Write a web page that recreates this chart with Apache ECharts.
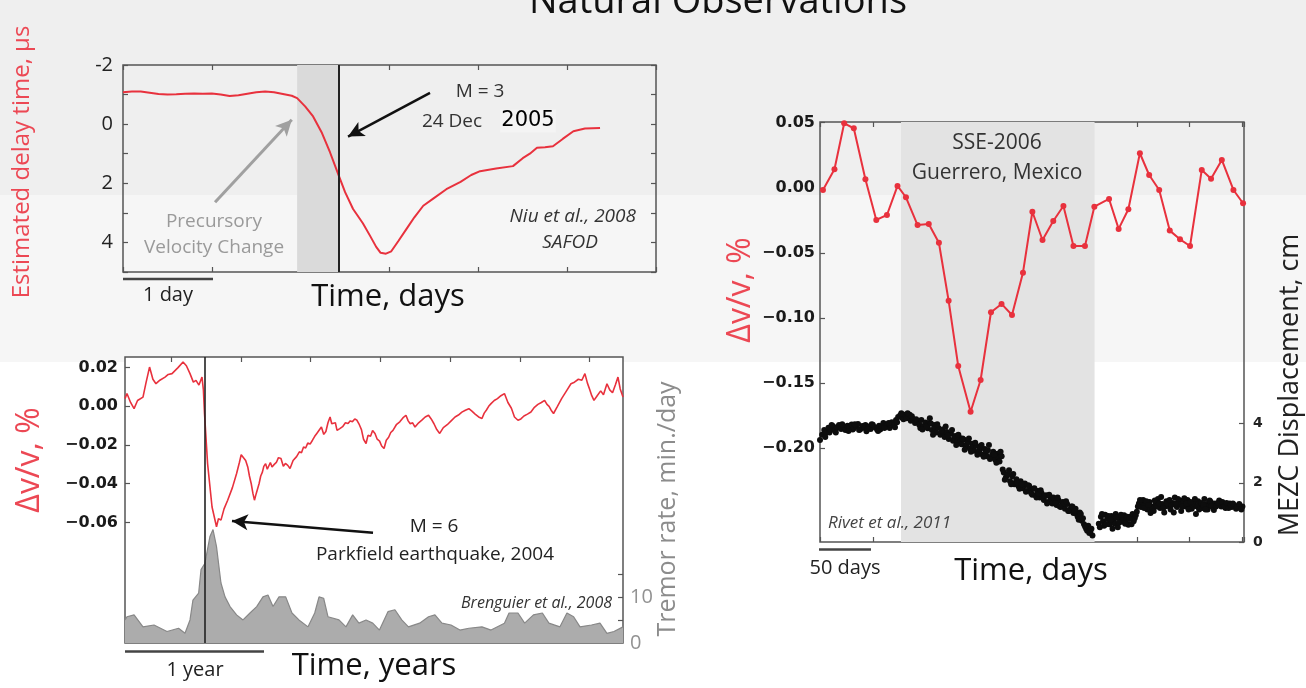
<!DOCTYPE html>
<html>
<head>
<meta charset="utf-8">
<script src="https://cdn.jsdelivr.net/npm/echarts@6/dist/echarts.min.js"></script>
<style>
  html, body { margin: 0; padding: 0; }
  body {
    background: linear-gradient(to bottom,
      #efefef 0, #efefef 195px,
      #f6f6f6 195px, #f6f6f6 362px,
      #ffffff 362px);
  }
  #chart { width: 1306px; height: 688px; }
</style>
</head>
<body>
<div id="chart"></div>
<script>
// ---------- SAFOD delay time (Niu et al., 2008) ----------
// [time in days, estimated delay time in microseconds]
const delayPairs = [
  [0, -1.08], [0.1, -1.1], [0.2, -1.1], [0.3, -1.06], [0.4, -1.02], [0.5, -1.0],
  [0.6, -1.01], [0.7, -1.03], [0.8, -1.04], [0.9, -1.03], [1.0, -1.04], [1.1, -1.0],
  [1.2, -0.95], [1.3, -0.98], [1.4, -1.03], [1.5, -1.08], [1.6, -1.1], [1.7, -1.08],
  [1.8, -1.02], [1.9, -0.96], [1.96, -0.88], [2.05, -0.6], [2.14, -0.26], [2.24, 0.3],
  [2.33, 0.95], [2.43, 1.75], [2.5, 2.3], [2.59, 2.87], [2.7, 3.35], [2.78, 3.77],
  [2.85, 4.15], [2.9, 4.35], [2.96, 4.38], [3.02, 4.3], [3.1, 3.95], [3.19, 3.55],
  [3.28, 3.15], [3.38, 2.76], [3.5, 2.5], [3.64, 2.2], [3.8, 1.95], [3.92, 1.72],
  [4.02, 1.59], [4.2, 1.5], [4.39, 1.42], [4.5, 1.15], [4.58, 1.0], [4.66, 0.8],
  [4.75, 0.78], [4.84, 0.75], [4.95, 0.5], [5.07, 0.24], [5.2, 0.15], [5.37, 0.13]
];
const delayBand = [1.96, 2.43];      // precursory window, days
const delayQuake = 2.43;             // M = 3 event, days

// ---------- Parkfield dv/v and tremor (Brenguier et al., 2008) ----------
// [decimal year, dv/v in %]
const parkfieldDv = [
  [2004.17, 0.004], [2004.184, 0.0066], [2004.21, 0.002], [2004.235, -0.0012], [2004.26, 0.003],
  [2004.299, 0.0048], [2004.32, 0.012], [2004.346, 0.0203], [2004.37, 0.014], [2004.392, 0.0117],
  [2004.42, 0.0135], [2004.457, 0.0151], [2004.48, 0.0165], [2004.507, 0.0169], [2004.55, 0.02],
  [2004.586, 0.0229], [2004.61, 0.021], [2004.636, 0.0169], [2004.66, 0.0125], [2004.679, 0.0134],
  [2004.70, 0.011], [2004.722, 0.0151], [2004.732, 0.0085], [2004.740, -0.0037], [2004.762, -0.0296],
  [2004.794, -0.052], [2004.826, -0.0622], [2004.84, -0.058], [2004.858, -0.0588], [2004.88, -0.053],
  [2004.906, -0.0485], [2004.94, -0.042], [2004.970, -0.0347], [2004.99, -0.029], [2005.003, -0.025],
  [2005.016, -0.026], [2005.035, -0.028], [2005.050, -0.0313], [2005.062, -0.036], [2005.075, -0.04],
  [2005.087, -0.045], [2005.098, -0.0485], [2005.107, -0.046], [2005.115, -0.044], [2005.131, -0.04],
  [2005.143, -0.036], [2005.155, -0.034], [2005.165, -0.031], [2005.178, -0.0296], [2005.19, -0.0325],
  [2005.20, -0.033], [2005.212, -0.029], [2005.224, -0.0313], [2005.24, -0.03], [2005.255, -0.029],
  [2005.27, -0.0265], [2005.288, -0.027], [2005.305, -0.031], [2005.32, -0.0295], [2005.337, -0.0305],
  [2005.353, -0.0321], [2005.375, -0.028], [2005.40, -0.026], [2005.42, -0.0235], [2005.435, -0.024],
  [2005.450, -0.021], [2005.465, -0.0215], [2005.48, -0.019], [2005.497, -0.0195], [2005.514, -0.0175],
  [2005.53, -0.0155], [2005.545, -0.014], [2005.56, -0.0125], [2005.578, -0.0107], [2005.595, -0.0145],
  [2005.61, -0.013], [2005.625, -0.0085], [2005.640, -0.0055], [2005.652, -0.009], [2005.665, -0.01],
  [2005.678, -0.0085], [2005.690, -0.0124], [2005.71, -0.0115], [2005.73, -0.0105], [2005.75, -0.0085],
  [2005.769, -0.0089], [2005.785, -0.0075], [2005.80, -0.008], [2005.817, -0.0065], [2005.833, -0.0072],
  [2005.85, -0.0095], [2005.865, -0.012], [2005.88, -0.017], [2005.898, -0.0192], [2005.912, -0.015],
  [2005.93, -0.0155], [2005.945, -0.0125], [2005.962, -0.014], [2005.978, -0.017], [2005.995, -0.018],
  [2006.01, -0.0205], [2006.027, -0.0218], [2006.043, -0.0175], [2006.06, -0.016], [2006.075, -0.0135],
  [2006.091, -0.0124], [2006.115, -0.0095], [2006.14, -0.008], [2006.162, -0.006], [2006.184, -0.0046],
  [2006.2, -0.0075], [2006.215, -0.009], [2006.232, -0.0085], [2006.249, -0.0107], [2006.275, -0.0085],
  [2006.30, -0.007], [2006.322, -0.0055], [2006.346, -0.0046], [2006.365, -0.0065], [2006.385, -0.009],
  [2006.405, -0.012], [2006.426, -0.014], [2006.452, -0.011], [2006.48, -0.0095], [2006.508, -0.0075],
  [2006.536, -0.0055], [2006.56, -0.0045], [2006.585, -0.003], [2006.61, -0.002], [2006.635, -0.0012],
  [2006.657, -0.0025], [2006.68, -0.004], [2006.705, -0.0055], [2006.729, -0.0063], [2006.745, -0.0035],
  [2006.76, -0.002], [2006.777, 0.0], [2006.794, 0.0014], [2006.817, 0.003], [2006.84, 0.004],
  [2006.865, 0.0055], [2006.890, 0.0066], [2006.915, 0.002], [2006.94, -0.001], [2006.962, -0.0055],
  [2006.987, -0.0072], [2007.008, -0.0065], [2007.03, -0.005], [2007.055, -0.004], [2007.080, -0.0029],
  [2007.105, -0.0005], [2007.13, 0.001], [2007.155, 0.002], [2007.178, 0.0031], [2007.195, 0.001],
  [2007.21, 0.0], [2007.225, -0.002], [2007.242, -0.0037], [2007.27, 0.0], [2007.30, 0.004],
  [2007.335, 0.008], [2007.367, 0.0117], [2007.392, 0.0125], [2007.42, 0.014], [2007.445, 0.0135],
  [2007.467, 0.0169], [2007.485, 0.012], [2007.50, 0.009], [2007.516, 0.0055], [2007.532, 0.0031],
  [2007.555, 0.0055], [2007.58, 0.008], [2007.6, 0.006], [2007.625, 0.0117], [2007.645, 0.0085],
  [2007.665, 0.007], [2007.685, 0.011], [2007.704, 0.0151], [2007.72, 0.009], [2007.740, 0.0048]
];
// [decimal year, tremor rate in min./day]
const tremorRate = [
  [2004.17, 5.0], [2004.184, 5.7], [2004.235, 6.1], [2004.299, 3.5], [2004.378, 3.9], [2004.471, 2.5],
  [2004.554, 3.2], [2004.600, 2.1], [2004.636, 5.0], [2004.657, 9.3], [2004.698, 10.8], [2004.715, 15.9],
  [2004.743, 17.3], [2004.779, 23.1], [2004.801, 24.6], [2004.826, 20.9], [2004.858, 13], [2004.887, 10],
  [2004.923, 7.9], [2004.970, 6.1], [2005.016, 5], [2005.066, 6.5], [2005.114, 7.9], [2005.159, 10],
  [2005.195, 10.4], [2005.231, 7.9], [2005.274, 10], [2005.322, 10], [2005.367, 6.5], [2005.417, 5],
  [2005.482, 3.5], [2005.530, 6.5], [2005.561, 10], [2005.594, 9.7], [2005.625, 5.7], [2005.704, 5],
  [2005.754, 3.5], [2005.802, 6.1], [2005.847, 4.3], [2005.898, 5], [2005.946, 4.3], [2005.994, 2.8],
  [2006.055, 6.8], [2006.105, 7.2], [2006.154, 5], [2006.202, 3.5], [2006.282, 4.3], [2006.346, 5.7],
  [2006.392, 6.1], [2006.442, 4.3], [2006.507, 3.9], [2006.571, 2.8], [2006.635, 3.2], [2006.729, 3.5],
  [2006.794, 2.8], [2006.890, 4.3], [2006.923, 6.5], [2006.987, 6.5], [2007.035, 4.3], [2007.098, 6.1],
  [2007.162, 6.5], [2007.209, 4.3], [2007.288, 3.5], [2007.338, 6.5], [2007.386, 5.7], [2007.432, 3.5],
  [2007.514, 3.9], [2007.575, 4.3], [2007.625, 2.1], [2007.675, 2.5], [2007.740, 3.5]
];
const parkfieldQuake = 2004.74;
const parkfieldDvTicks = [-0.06, -0.04, -0.02, 0, 0.02];
const tremorLabels = [0, 10];
const tremorTicks = [5, 10, 15];
const halfYearTicks = [2004.5, 2005, 2005.5, 2006, 2006.5, 2007, 2007.5];

// ---------- Guerrero SSE 2006 (Rivet et al., 2011) ----------
// [day, dv/v in %]
const guerreroDv = [
  [2.8, -0.0017], [13.7, 0.0142], [22.9, 0.0495], [32, 0.0457], [43, 0.0065], [53.3, -0.0247],
  [63.4, -0.0209], [73.4, 0.0014], [81.4, -0.0073], [92.4, -0.0286], [103, -0.0278], [112.6, -0.0422],
  [121.8, -0.0867], [130.9, -0.1369], [142.6, -0.172], [152.1, -0.1476], [161.9, -0.0956], [171.9, -0.0892],
  [181.8, -0.0977], [192.2, -0.0652], [201.1, -0.0184], [210.7, -0.0401], [220.9, -0.0255], [230.5, -0.014],
  [240, -0.0447], [250.9, -0.0447], [259.8, -0.0145], [273.7, -0.0086], [282.8, -0.0316], [292, -0.0165],
  [302.9, 0.0265], [311.7, 0.0098], [321.2, -0.0017], [331.2, -0.0329], [340.9, -0.0396], [350.4, -0.0447],
  [361.5, 0.0137], [370.3, 0.007], [380.5, 0.0214], [391.5, -0.0017], [400.6, -0.0119]
];
// [day, MEZC GPS displacement in cm]
const mezcDisp = [
  [0, 3.45], [2, 3.62], [4, 3.78], [6, 3.7], [8, 3.86], [9, 3.7], [10, 3.8], [12, 3.92], [14, 3.76],
  [16, 3.88], [18, 3.95], [19, 3.85], [20, 3.82], [22, 3.9], [24, 3.78], [26, 3.93], [28, 3.86],
  [30, 3.97], [31, 3.8], [32, 3.84], [34, 3.9], [36, 3.99], [38, 3.8], [40, 3.92], [42, 3.85],
  [43, 3.95], [44, 3.74], [46, 3.9], [48, 3.82], [50, 3.96], [52, 3.88], [54, 3.8], [56, 3.93],
  [57, 3.8], [58, 3.86], [60, 4.02], [62, 3.9], [64, 3.97], [66, 3.85], [67, 3.95], [68, 4.05],
  [70, 3.95], [72, 4.12], [73, 4.05], [74, 4.22], [76, 4.28], [78, 4.2], [79, 4.15], [80, 4.3],
  [82, 4.18], [84, 4.24], [85, 4.3], [86, 4.1], [88, 4.15], [90, 4.02], [92, 4.08], [94, 3.96],
  [95, 3.85], [96, 4.12], [98, 3.92], [100, 4.04], [102, 3.84], [103, 4.0], [104, 4.18], [106, 3.78],
  [108, 3.95], [109, 3.82], [110, 3.7], [112, 3.86], [114, 3.62], [116, 3.8], [117, 3.68], [118, 3.55],
  [120, 3.72], [122, 3.48], [124, 3.66], [126, 3.42], [127, 3.5], [128, 3.58], [130, 3.38], [132, 3.52],
  [133, 3.4], [134, 3.3], [136, 3.46], [138, 3.22], [139, 3.3], [140, 3.4], [142, 3.15], [144, 3.32],
  [145, 3.2], [146, 3.08], [148, 3.25], [150, 3.02], [151, 3.1], [152, 3.2], [154, 2.95], [156, 3.14],
  [157, 3.02], [158, 2.9], [160, 3.28], [162, 2.85], [163, 2.95], [164, 3.05], [166, 2.78], [168, 2.98],
  [169, 2.85], [170, 2.72], [172, 2.9], [174, 2.35], [176, 2.18], [177, 2.25], [178, 2.3], [180, 2.05],
  [182, 2.22], [184, 1.95], [185, 2.0], [186, 2.12], [188, 1.88], [190, 2.05], [192, 1.82], [193, 1.9],
  [194, 1.98], [196, 1.72], [198, 1.9], [199, 1.75], [200, 1.65], [202, 1.8], [204, 1.58], [206, 1.72],
  [208, 1.5], [210, 1.64], [211, 1.5], [212, 1.42], [214, 1.58], [216, 1.35], [218, 1.52], [219, 1.4],
  [220, 1.3], [222, 1.45], [224, 1.25], [226, 1.4], [228, 1.18], [229, 1.25], [230, 1.35], [232, 1.12],
  [234, 1.28], [236, 1.05], [237, 1.1], [238, 1.2], [240, 0.98], [242, 1.12], [243, 0.95], [244, 0.85],
  [246, 1.0], [248, 0.72], [250, 0.6], [252, 0.45], [253, 0.38], [254, 0.55], [256, 0.35], [258, 0.22],
  [264, 0.62], [266, 0.85], [268, 0.7], [269, 0.55], [270, 0.92], [272, 0.78], [274, 0.6], [276, 0.88],
  [278, 0.72], [279, 0.62], [280, 0.95], [282, 0.5], [284, 0.8], [286, 0.68], [287, 0.82], [288, 0.9],
  [290, 0.75], [292, 0.58], [294, 0.85], [296, 0.95], [297, 0.7], [298, 0.8], [300, 1.02], [302, 1.3],
  [304, 1.18], [305, 1.35], [306, 1.42], [308, 1.25], [310, 1.1], [312, 1.35], [314, 1.2], [315, 1.12],
  [316, 1.05], [318, 1.3], [320, 1.45], [322, 1.15], [324, 1.28], [326, 1.0], [327, 1.2], [328, 1.38],
  [330, 1.22], [332, 1.1], [334, 1.32], [336, 1.5], [338, 1.18], [340, 1.28], [341, 1.4], [342, 1.05],
  [344, 1.35], [346, 1.2], [348, 1.42], [350, 1.25], [352, 1.12], [353, 1.2], [354, 1.3], [356, 0.95],
  [358, 1.38], [360, 1.22], [362, 1.15], [364, 1.45], [366, 1.28], [367, 1.1], [368, 1.2], [370, 1.35],
  [372, 1.18], [374, 1.3], [376, 1.25], [378, 1.4], [379, 1.3], [380, 1.2], [382, 1.28], [384, 1.15],
  [386, 1.22], [388, 1.3], [390, 1.18], [392, 1.25], [393, 1.2], [394, 1.12], [396, 1.22], [398, 1.15],
  [400, 1.2],
  // repeat-day observations
  [5, 3.55], [11, 3.95], [15, 3.7], [21, 3.98], [27, 3.75], [33, 3.98], [37, 3.78], [45, 3.82],
  [49, 3.98], [55, 3.75], [61, 3.85], [65, 4.02], [71, 3.88], [77, 4.35], [83, 4.35], [87, 4.25],
  [91, 4.15], [97, 3.8], [101, 3.9], [105, 4.0], [107, 3.62], [111, 3.98], [115, 3.75], [119, 3.9],
  [121, 3.6], [125, 3.78], [129, 3.28], [131, 3.62], [135, 3.5], [137, 3.12], [141, 3.5], [143, 3.05],
  [147, 3.35], [149, 2.95], [153, 3.28], [155, 2.88], [159, 3.1], [161, 2.8], [165, 2.95], [167, 2.68],
  [171, 3.05], [173, 2.45], [175, 2.1], [179, 2.42], [181, 1.95], [183, 2.3], [187, 2.0], [189, 1.8],
  [191, 1.95], [195, 1.7], [197, 1.92], [201, 1.6], [203, 1.82], [205, 1.5], [207, 1.62], [209, 1.75],
  [213, 1.55], [215, 1.3], [217, 1.6], [221, 1.5], [223, 1.32], [225, 1.5], [227, 1.2], [231, 1.3],
  [233, 1.38], [235, 1.05], [239, 1.2], [241, 1.05], [245, 0.75], [247, 0.95], [249, 0.8], [251, 0.52],
  [255, 0.3], [257, 0.45], [265, 0.5], [267, 0.95], [271, 0.6], [273, 0.88], [275, 0.75], [277, 0.45],
  [281, 0.82], [283, 0.65], [285, 0.92], [289, 0.62], [291, 0.85], [293, 0.78], [295, 0.6], [299, 0.9],
  [301, 1.2], [303, 1.42], [307, 1.15], [309, 1.38], [311, 1.25], [313, 0.98], [317, 1.4], [319, 1.2],
  [321, 1.3], [323, 1.52], [325, 1.15], [329, 1.3], [331, 1.42], [333, 1.25], [335, 1.0], [337, 1.3],
  [339, 1.45], [343, 1.2], [345, 1.48], [347, 1.3], [349, 1.1], [351, 1.35], [355, 1.45], [357, 1.2],
  [359, 1.1], [361, 1.32], [363, 1.25], [365, 1.1], [369, 1.4], [371, 1.22], [373, 1.08], [375, 1.2],
  [377, 1.32], [381, 1.35], [383, 1.2], [385, 1.32], [387, 1.15], [389, 1.25], [391, 1.3], [395, 1.18],
  [397, 1.28], [399, 1.1]
];
const sseWindow = [76.7, 260];
const guerreroDvTicks = [0.05, 0, -0.05, -0.10, -0.15, -0.20];
const mezcTicks = [0, 2, 4];

// ---------- styling ----------
const RED = '#e8313d';
const RED_TEXT = '#ec4854';
const FRAME = '#555';
const SANS = '"Open Sans", "Noto Sans", sans-serif';
const TICK_FONT = '"DejaVu Sans", sans-serif';

const pctFormat = v => (v < 0 ? '\u2212' : '') + Math.abs(v).toFixed(2);
const tickStyle = { color: FRAME, width: 1.2 };

function frameAxis(gridIndex, min, max, position, extra) {
  return Object.assign({
    type: 'value', gridIndex, min, max, position,
    axisLine: { show: false, onZero: false },
    axisTick: { show: true, inside: true, length: 5, lineStyle: tickStyle },
    axisLabel: { show: false },
    splitLine: { show: false }
  }, extra || {});
}
const customTicks = values => ({ show: true, inside: true, length: 5, customValues: values, lineStyle: tickStyle });

const gridBase = { show: true, borderColor: FRAME, borderWidth: 1.5, outerBoundsMode: 'none', containLabel: false };

const txt = (text, x, y, o) => ({
  type: 'text', x, y, z: 100, rotation: (o && o.rotation) || 0,
  style: Object.assign({
    text, align: 'center', verticalAlign: 'middle',
    fill: '#222', fontFamily: SANS, fontSize: 19
  }, (o && o.style) || {})
});
const bar = (x1, x2, y) => ({
  type: 'line', z: 100,
  shape: { x1, y1: y, x2, y2: y },
  style: { stroke: '#444', lineWidth: 2.5 }
});

const option = {
  animation: false,
  backgroundColor: 'transparent',
  grid: [
    Object.assign({ left: 123, top: 65, width: 533, height: 207, backgroundColor: 'transparent' }, gridBase),
    Object.assign({ left: 125, top: 357, width: 498, height: 286, backgroundColor: '#ffffff' }, gridBase),
    Object.assign({ left: 820, top: 122, width: 424, height: 420, backgroundColor: 'transparent' }, gridBase)
  ],
  xAxis: [
    frameAxis(0, 0, 6, 'bottom', { interval: 1 }),
    frameAxis(0, 0, 6, 'top', { interval: 1 }),
    frameAxis(1, 2004.17, 2007.74, 'bottom', {
      axisTick: customTicks(halfYearTicks),
      axisLabel: { show: false, customValues: halfYearTicks }
    }),
    frameAxis(1, 2004.17, 2007.74, 'top', {
      axisTick: customTicks(halfYearTicks),
      axisLabel: { show: false, customValues: halfYearTicks }
    }),
    frameAxis(2, 0, 401.5, 'bottom', { interval: 50 }),
    frameAxis(2, 0, 401.5, 'top', { interval: 50 })
  ],
  yAxis: [
    frameAxis(0, -2, 5, 'left', {
      inverse: true, interval: 1,
      axisLabel: {
        show: true, margin: 10, color: '#222', fontFamily: SANS, fontSize: 20,
        formatter: v => (v % 2 === 0 ? String(v) : '')
      }
    }),
    frameAxis(0, -2, 5, 'right', { inverse: true, interval: 1 }),
    frameAxis(1, -0.1223, 0.0255, 'left', {
      axisTick: customTicks(parkfieldDvTicks),
      axisLabel: {
        show: true, margin: 7, customValues: parkfieldDvTicks, color: '#1a1a1a',
        fontFamily: TICK_FONT, fontWeight: 'bold', fontSize: 16, formatter: pctFormat
      }
    }),
    frameAxis(1, 0, 62, 'right', {
      axisTick: customTicks(tremorTicks),
      axisLabel: {
        show: true, margin: 7, customValues: tremorLabels, color: '#929292',
        fontFamily: SANS, fontSize: 20
      }
    }),
    frameAxis(2, -0.272, 0.0505, 'left', {
      axisTick: customTicks(guerreroDvTicks),
      axisLabel: {
        show: true, margin: 5, customValues: guerreroDvTicks, color: '#1a1a1a',
        fontFamily: TICK_FONT, fontWeight: 'bold', fontSize: 16, formatter: pctFormat
      }
    }),
    frameAxis(2, 0, 14.19, 'right', {
      axisTick: customTicks(mezcTicks),
      axisLabel: {
        show: true, margin: 9, customValues: mezcTicks, color: '#222',
        fontFamily: TICK_FONT, fontWeight: 'bold', fontSize: 14
      }
    })
  ],
  series: [
    // SAFOD: precursory window, event line and annotation arrows
    {
      type: 'line', xAxisIndex: 0, yAxisIndex: 0, data: [], z: 1, silent: true,
      markArea: {
        silent: true,
        itemStyle: { color: '#dadada', opacity: 1 },
        data: [[{ xAxis: delayBand[0] }, { xAxis: delayBand[1] }]]
      },
      markLine: {
        silent: true, symbol: ['none', 'none'], label: { show: false },
        lineStyle: { color: '#222', width: 2, type: 'solid' },
        data: [{ xAxis: delayQuake }]
      }
    },
    {
      type: 'line', xAxisIndex: 0, yAxisIndex: 0, data: delayPairs, z: 3,
      showSymbol: false, smooth: false,
      lineStyle: { color: RED, width: 2 }
    },
    {
      type: 'line', xAxisIndex: 0, yAxisIndex: 0, data: [], z: 5, silent: true,
      markLine: {
        silent: true, symbol: ['none', 'arrow'], symbolSize: [12, 16], label: { show: false },
        data: [
          [{ coord: [3.456, -1.06], lineStyle: { color: '#111', width: 2.5, type: 'solid' } },
           { coord: [2.533, 0.42] }],
          [{ coord: [1.036, 2.64], lineStyle: { color: '#a0a0a0', width: 3, type: 'solid' } },
           { coord: [1.90, -0.15] }]
        ]
      }
    },
    // Parkfield: tremor rate, dv/v, event line, arrow
    {
      type: 'line', xAxisIndex: 2, yAxisIndex: 3, data: tremorRate, z: 2,
      showSymbol: false,
      lineStyle: { color: '#888', width: 1.2 },
      areaStyle: { color: '#acacac', opacity: 1 }
    },
    {
      type: 'line', xAxisIndex: 2, yAxisIndex: 2, data: [], z: 3, silent: true,
      markLine: {
        silent: true, symbol: ['none', 'none'], label: { show: false },
        lineStyle: { color: '#222', width: 1.6, type: 'solid' },
        data: [{ xAxis: parkfieldQuake }]
      }
    },
    {
      type: 'line', xAxisIndex: 2, yAxisIndex: 2, data: parkfieldDv, z: 4,
      showSymbol: false,
      lineStyle: { color: RED, width: 1.6 }
    },
    {
      type: 'line', xAxisIndex: 2, yAxisIndex: 2, data: [], z: 5, silent: true,
      markLine: {
        silent: true, symbol: ['none', 'arrow'], symbolSize: [12, 16], label: { show: false },
        lineStyle: { color: '#111', width: 2.5, type: 'solid' },
        data: [[{ coord: [2005.948, -0.0653] }, { coord: [2004.937, -0.0592] }]]
      }
    },
    // Guerrero: SSE window, GPS displacement, dv/v
    {
      type: 'line', xAxisIndex: 4, yAxisIndex: 4, data: [], z: 1, silent: true,
      markArea: {
        silent: true,
        itemStyle: { color: '#e3e3e3', opacity: 1 },
        data: [[{ xAxis: sseWindow[0] }, { xAxis: sseWindow[1] }]]
      }
    },
    {
      type: 'scatter', xAxisIndex: 4, yAxisIndex: 5, data: mezcDisp, z: 3,
      symbol: 'circle', symbolSize: 6,
      itemStyle: { color: '#0d0d0d', opacity: 1 }
    },
    {
      type: 'line', xAxisIndex: 4, yAxisIndex: 4, data: guerreroDv, z: 4,
      symbol: 'circle', symbolSize: 6, showSymbol: true,
      itemStyle: { color: RED, opacity: 1 },
      lineStyle: { color: RED, width: 2 }
    }
  ],
  graphic: [
    txt('Natural Observations', 718, 21, { style: { fontSize: 38, fill: '#111', verticalAlign: 'bottom' } }),

    // SAFOD panel text
    txt('Estimated delay time, \u00b5s', 22, 162, { rotation: Math.PI / 2, style: { fontSize: 24, fill: RED_TEXT } }),
    txt('Time, days', 388, 297, { style: { fontSize: 31, fill: '#111' } }),
    txt('1 day', 168, 295, { style: { fontSize: 20 } }),
    bar(123, 213, 279),
    txt('Precursory', 214, 222, { style: { fill: '#9a9a9a' } }),
    txt('Velocity Change', 214, 248, { style: { fill: '#9a9a9a' } }),
    txt('M = 3', 480, 92, { style: { fill: '#333' } }),
    txt('24 Dec', 452, 122, { style: { fill: '#333' } }),
    txt('2005', 528, 121, { style: { fill: '#000', fontFamily: TICK_FONT, fontSize: 21, backgroundColor: '#f4f4f4', padding: [1, 1] } }),
    txt('Niu et al., 2008', 636, 217, { style: { align: 'right', fill: '#333', fontStyle: 'italic' } }),
    txt('SAFOD', 570, 243, { style: { fill: '#333', fontStyle: 'italic' } }),

    // Parkfield panel text
    txt('\u0394v/v, %', 30, 460, { rotation: Math.PI / 2, style: { fontSize: 32, fill: RED_TEXT } }),
    txt('Tremor rate, min./day', 668, 509, { rotation: Math.PI / 2, style: { fontSize: 25, fill: '#8c8c8c' } }),
    txt('1 year', 195, 670, { style: { fontSize: 20 } }),
    bar(125, 264, 651.5),
    txt('Time, years', 374, 666, { style: { fontSize: 31, fill: '#111' } }),
    txt('M = 6', 434, 527, { style: { fill: '#222' } }),
    txt('Parkfield earthquake, 2004', 435, 555, { style: { fill: '#222' } }),
    txt('Brenguier et al., 2008', 612, 603, { style: { align: 'right', fill: '#333', fontStyle: 'italic', fontSize: 16 } }),

    // Guerrero panel text
    txt('\u0394v/v, %', 741, 290, { rotation: Math.PI / 2, style: { fontSize: 32, fill: RED_TEXT } }),
    txt('MEZC Displacement, cm', 1290, 385, { rotation: Math.PI / 2, style: { fontSize: 27, fill: '#222' } }),
    txt('SSE-2006', 997, 143, { style: { fontSize: 21, fill: '#333' } }),
    txt('Guerrero, Mexico', 997, 173, { style: { fontSize: 21, fill: '#333' } }),
    txt('Rivet et al., 2011', 828, 523, { style: { align: 'left', fill: '#444', fontStyle: 'italic', fontSize: 17 } }),
    txt('50 days', 845, 568, { style: { fontSize: 20 } }),
    bar(819, 871, 549.5),
    txt('Time, days', 1031, 571, { style: { fontSize: 31, fill: '#111' } })
  ]
};

const chart = echarts.init(document.getElementById('chart'), null, { renderer: 'canvas' });
chart.setOption(option);
</script>
</body>
</html>
